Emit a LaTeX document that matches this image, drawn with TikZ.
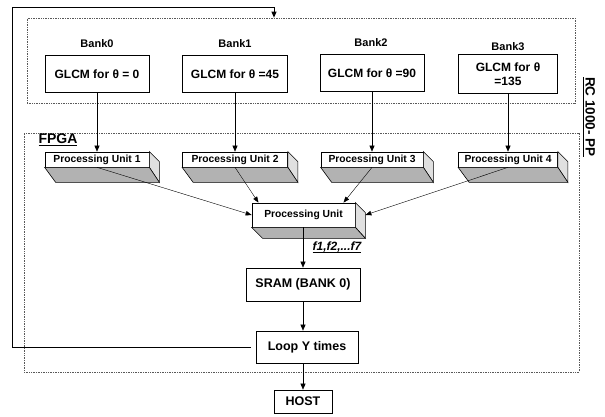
\documentclass[tikz,border=0pt]{standalone}
\usepackage{fontspec}
\setmainfont{Liberation Sans}
\usetikzlibrary{positioning,arrows.meta}
\usetikzlibrary{calc}
\newcommand\thkul[1]{\setbox0\hbox{#1}\rlap{\rule[-2.6pt]{\wd0}{1.4pt}}\box0}

\begin{document}
\begin{tikzpicture}[x=1pt, y=-1pt, font=\bfseries,
  box/.style={draw=black, fill=white, line width=0.7pt, inner sep=1pt, align=center},
  glcm/.style={box, minimum width=104pt, minimum height=37pt, font=\bfseries\fontsize{12}{14}\selectfont},
  unit/.style={box, minimum height=15pt, font=\bfseries\fontsize{10.3}{11}\selectfont},
  memb/.style={box, font=\bfseries\fontsize{12.5}{14}\selectfont},
  frame/.style={draw=black!65, densely dotted, line width=0.7pt},
  arr/.style={-{Triangle[length=6pt,width=5pt]}, draw=black, line width=0.6pt},
  thinarr/.style={-{Triangle[length=6pt,width=4.5pt]}, draw=black, line width=0.4pt}]
\useasboundingbox (0,0) rectangle (605,416);
% dotted frames
\node[frame, minimum width=548pt, minimum height=85pt] (banks) at (301,60.5) {};
\node[frame, minimum width=555pt, minimum height=239pt] (fpga) at (301.5,252.5) {};
\node[font=\bfseries\fontsize{14}{16}\selectfont] (fpgalbl) at (58,140) {\thkul{FPGA}};
\node[rotate=-90, font=\bfseries\fontsize{13.5}{15}\selectfont] (rc) at (589,117) {\thkul{RC 1000- PP}};
% memory banks
\node[font=\bfseries\fontsize{11}{13}\selectfont] (bk0) at (97,44) {Bank0};
\node[font=\bfseries\fontsize{11}{13}\selectfont] (bk1) at (235,44) {Bank1};
\node[font=\bfseries\fontsize{11}{13}\selectfont] (bk2) at (371,43) {Bank2};
\node[font=\bfseries\fontsize{11}{13}\selectfont] (bk3) at (508,47) {Bank3};
\node[glcm] (g1) at (97,74) {GLCM for θ = 0};
\node[glcm, minimum width=105pt] (g2) at (235,74) {GLCM for θ =45};
\node[glcm] (g3) at (372,73) {GLCM for θ =90};
\node[glcm, minimum width=99pt, minimum height=39pt] (g4) at (508,74) {GLCM for θ\\=135};
% processing units
\node[unit, minimum width=104pt] (pu1) at (97,159.5) {Processing Unit 1};
\node[unit, minimum width=105pt] (pu2) at (235,159.5) {Processing Unit 2};
\node[unit, minimum width=102pt] (pu3) at (372,159.5) {Processing Unit 3};
\node[unit, minimum width=99pt] (pu4) at (508,159.5) {Processing Unit 4};
\node[unit, minimum width=103pt, minimum height=24pt] (pu) at (303.5,215) {Processing Unit};
\foreach \n/\d in {pu1/15, pu2/15, pu3/15, pu4/15, pu/11} {
  \filldraw[fill=black!12, line width=0.6pt] (\n.north east) -- ++(10,10)
    -- ($(\n.south east)+(10,\d)$) -- (\n.south east) -- cycle;
  \filldraw[fill=black!30, line width=0.6pt] (\n.south west) -- (\n.south east)
    -- ++(10,\d) -- ($(\n.south west)+(11,\d)$) -- cycle;
}
% sram, loop, host
\node[memb, minimum width=114pt, minimum height=33pt] (sram) at (303,284.5) {SRAM (BANK 0)};
\node[memb, minimum width=102pt, minimum height=32pt] (loop) at (307,347) {Loop Y times};
\node[memb, minimum width=58pt, minimum height=23pt] (host) at (303,401.5) {HOST};
\coordinate (ret) at (12,7);
% connectors
\foreach \i in {1,...,4} \draw[arr] (g\i) -- (pu\i);
\draw[thinarr] (pu1.south) -- (pu.west);
\draw[thinarr] (pu2.south) -- ([xshift=-45pt]pu.north);
\draw[thinarr] (pu3.south) -- ([xshift=40pt]pu.north);
\draw[thinarr] (pu4.south) -- ([xshift=10pt]pu.east);
\draw[arr] (pu.south -| sram.north) -- node[right=6pt, font=\bfseries\itshape\fontsize{12}{14}\selectfont] {\thkul{f1,f2,...f7}} (sram.north);
\draw[arr] (sram.south) -- (sram.south |- loop.north);
\draw[arr] (loop.south -| host.north) -- (host.north);
\draw[arr, line width=0.9pt] ([xshift=-5pt]loop.west) -| (ret) -| ([xshift=-27pt]banks.north);
\end{tikzpicture}
\end{document}
